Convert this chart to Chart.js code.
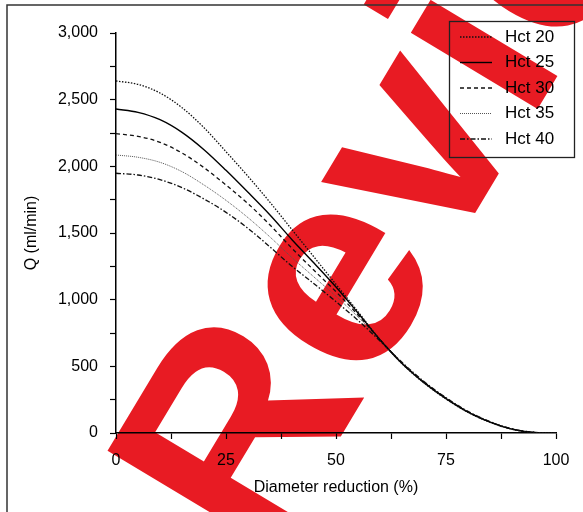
<!DOCTYPE html>
<html lang="en">
  <head>
    <meta charset="UTF-8" />
    <title>Q vs diameter reduction</title>
    <style>
      body {
        margin: 0;
        padding: 0;
        background-color: #fff;
      }

      .chart-container {
        position: relative;
        width: 583px;
        height: 512px;
      }
    </style>
  </head>
  <body>
    <div class="chart-container">
      <canvas id="flowChart"></canvas>
    </div>

    <script src="https://cdn.jsdelivr.net/npm/chart.js"></script>
    <script>
      // diameter reduction (%) and flow Q (ml/min) for each haematocrit
      const diameterReduction = [0, 5, 10, 15, 20, 25, 30, 35, 40, 45, 50, 55, 60, 65, 70, 75, 80, 85, 90, 95, 100];
      const hct20 = [2640, 2615, 2550, 2440, 2290, 2110, 1925, 1730, 1525, 1320, 1115, 910, 700, 520, 375, 255, 155, 80, 28, 4, 0];
      const hct25 = [2430, 2405, 2350, 2255, 2125, 1970, 1805, 1635, 1450, 1275, 1095, 900, 700, 522, 378, 258, 157, 82, 29, 4, 0];
      const hct30 = [2245, 2225, 2180, 2100, 1990, 1860, 1720, 1560, 1385, 1220, 1060, 885, 700, 525, 380, 260, 158, 83, 30, 5, 0];
      const hct35 = [2085, 2068, 2030, 1960, 1860, 1745, 1615, 1470, 1315, 1170, 1025, 870, 698, 528, 383, 262, 160, 85, 30, 5, 0];
      const hct40 = [1948, 1935, 1900, 1840, 1755, 1655, 1535, 1395, 1250, 1120, 985, 845, 690, 530, 386, 265, 162, 86, 31, 5, 0];
      const seriesLabels = ["Hct 20", "Hct 25", "Hct 30", "Hct 35", "Hct 40"];

      const FONT = "'Liberation Sans', Arial, sans-serif";

      const toPoints = (values) =>
        values.map((v, i) => ({ x: diameterReduction[i], y: v }));

      const lineStyles = [
        { borderDash: [1.5, 1.5], borderWidth: 1.3, borderColor: "#111" },
        { borderDash: [], borderWidth: 1.4, borderColor: "#000" },
        { borderDash: [4, 3], borderWidth: 1.3, borderColor: "#111" },
        { borderDash: [1, 1], borderWidth: 1, borderColor: "#555" },
        { borderDash: [5, 2, 1.5, 2], borderWidth: 1.3, borderColor: "#111" },
      ];

      const datasets = [hct20, hct25, hct30, hct35, hct40].map((values, i) => ({
        label: seriesLabels[i],
        data: toPoints(values),
        fill: false,
        pointRadius: 0,
        cubicInterpolationMode: "monotone",
        ...lineStyles[i],
      }));

      // frame and watermark behind everything
      const backdrop = {
        id: "backdrop",
        beforeDraw(chart) {
          const ctx = chart.ctx;
          ctx.save();
          ctx.fillStyle = "#fff";
          ctx.fillRect(0, 0, chart.width, chart.height);
          ctx.translate(263, 566);
          ctx.rotate((-59 * Math.PI) / 180);
          ctx.font = "bold 280px " + FONT;
          ctx.fillStyle = "rgb(232, 27, 35)";
          ctx.textBaseline = "alphabetic";
          ctx.fillText("Review", 0, 0);
          ctx.restore();

          ctx.save();
          ctx.strokeStyle = "#333";
          ctx.lineWidth = 1.5;
          ctx.strokeRect(7, 5, 700, 700);
          ctx.restore();
        },
      };

      // legend box inside the plot, top right
      const insideLegend = {
        id: "insideLegend",
        afterDatasetsDraw(chart) {
          const ctx = chart.ctx;
          ctx.save();
          ctx.strokeStyle = "#222";
          ctx.lineWidth = 1.3;
          ctx.strokeRect(449.5, 21.5, 125, 136);
          ctx.font = "17px " + FONT;
          ctx.fillStyle = "#000";
          ctx.textBaseline = "middle";
          chart.data.datasets.forEach((ds, i) => {
            const y = 37 + i * 25.5;
            ctx.beginPath();
            ctx.setLineDash(ds.borderDash);
            ctx.lineWidth = ds.borderWidth;
            ctx.strokeStyle = ds.borderColor;
            ctx.moveTo(460, y);
            ctx.lineTo(492, y);
            ctx.stroke();
            ctx.setLineDash([]);
            ctx.fillText(ds.label, 505, y);
          });
          ctx.restore();
        },
      };

      const ctx = document.getElementById("flowChart").getContext("2d");
      new Chart(ctx, {
        type: "line",
        data: { datasets: datasets },
        plugins: [backdrop, insideLegend],
        options: {
          responsive: true,
          maintainAspectRatio: false,
          animation: false,
          layout: { padding: { top: 33, right: 27, left: 0, bottom: 0 } },
          plugins: {
            legend: { display: false },
            tooltip: { enabled: false },
          },
          scales: {
            x: {
              type: "linear",
              min: 0,
              max: 100,
              afterFit: (scale) => {
                scale.height = 79;
              },
              ticks: {
                stepSize: 12.5,
                autoSkip: false,
                maxRotation: 0,
                padding: 12,
                color: "#000",
                font: { family: FONT, size: 16 },
                callback: (v) => (v % 25 === 0 ? v : ""),
              },
              grid: {
                drawOnChartArea: false,
                tickLength: 6,
                color: "#000",
                tickWidth: 1.2,
              },
              border: { color: "#000", width: 1.5 },
              title: {
                display: true,
                text: "Diameter reduction (%)",
                color: "#000",
                font: { family: FONT, size: 16 },
                padding: { top: 0, bottom: 15 },
              },
            },
            y: {
              min: 0,
              max: 3000,
              afterFit: (scale) => {
                scale.width = 116;
              },
              ticks: {
                stepSize: 250,
                autoSkip: false,
                padding: 12,
                color: "#000",
                font: { family: FONT, size: 16 },
                callback: (v) => (v % 500 === 0 ? v.toLocaleString("en-US") : ""),
              },
              grid: {
                drawOnChartArea: false,
                tickLength: 6,
                color: "#000",
                tickWidth: 1.2,
              },
              border: { color: "#000", width: 1.5 },
              title: {
                display: true,
                text: "Q (ml/min)",
                color: "#000",
                font: { family: FONT, size: 16 },
                padding: { top: 22, bottom: 0 },
              },
            },
          },
        },
      });
    </script>
  </body>
</html>
